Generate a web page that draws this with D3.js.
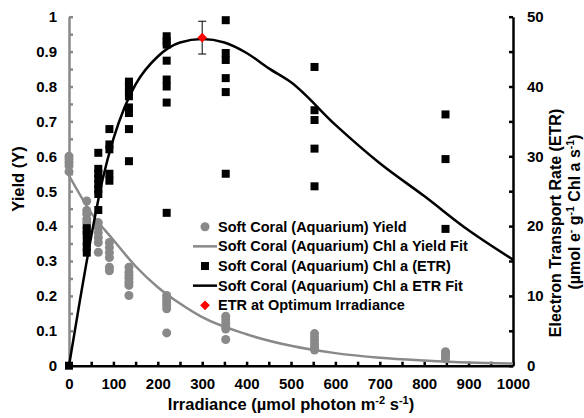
<!DOCTYPE html>
<html>
<head>
<meta charset="utf-8">
<script src="https://cdn.jsdelivr.net/npm/d3@7"></script>
<style>
  body { margin: 0; background: #fff; }
  svg { font-family: "Liberation Sans", Arial, sans-serif; font-weight: bold; }
</style>
</head>
<body>
<svg id="chart"></svg>
<script>
// irradiance levels (umol photon m-2 s-1)
var irradiance = [0, 40, 66, 91, 135, 220, 353, 553, 848];

// yield readings at each level
var yieldVals = [
  [0.600, 0.592, 0.583, 0.573, 0.556],
  [0.472, 0.445, 0.435, 0.420, 0.410, 0.395, 0.380],
  [0.410, 0.396, 0.381, 0.367, 0.353, 0.325],
  [0.353, 0.339, 0.324, 0.310, 0.282, 0.272],
  [0.282, 0.268, 0.258, 0.249, 0.239, 0.230, 0.201],
  [0.201, 0.192, 0.182, 0.173, 0.163, 0.094],
  [0.142, 0.132, 0.122, 0.112, 0.105, 0.075],
  [0.092, 0.082, 0.072, 0.062, 0.052, 0.045],
  [0.040, 0.035, 0.030, 0.025, 0.020]
];

// ETR readings at each level
var etrVals = [
  [0],
  [19.7, 18.8, 17.8, 17.0, 16.2],
  [30.5, 28.2, 27.5, 26.8, 26.0, 25.3, 24.6, 22.3],
  [33.9, 31.7, 31.0, 27.5, 26.5],
  [40.7, 40.0, 39.3, 38.6, 37.0, 36.2, 33.9, 29.3],
  [47.2, 46.5, 46.0, 43.7, 41.0, 40.0, 37.7, 21.9],
  [49.5, 44.8, 43.8, 41.2, 39.2, 27.5],
  [42.8, 36.6, 35.2, 31.1, 25.7],
  [36.0, 29.6, 19.6]
];

// fitted curves
var yieldFitX = [0, 50, 100, 150, 200, 250, 300, 400, 500, 600, 700, 800, 900, 1000];
var yieldFitY = [0.545, 0.438, 0.36, 0.285, 0.225, 0.178, 0.139, 0.09, 0.057, 0.036, 0.023, 0.015, 0.009, 0.006];
var etrFitX = [0, 25, 50, 75, 100, 125, 150, 200, 250, 300, 350, 400, 450, 500, 600, 700, 800, 900, 1000];
var etrFitY = [0, 9.5, 18.5, 26.5, 32.5, 37, 40.3, 44.3, 46.3, 46.8, 46.3, 44.8, 42.6, 40.6, 34.5, 29.0, 24.3, 19.4, 15.2];

// optimum point
var optI = 300, optEtr = 47.0, optErr = 2.35;

var legendLabels = [
  "Soft Coral (Aquarium) Yield",
  "Soft Coral (Aquarium) Chl a Yield Fit",
  "Soft Coral (Aquarium) Chl a (ETR)",
  "Soft Coral (Aquarium) Chl a ETR Fit",
  "ETR at Optimum Irradiance"
];

var grey = "#898989";
var W = 584, H = 418;
var plotL = 69, plotR = 513, plotT = 16.7, plotB = 365.7;

var svg = d3.select("#chart").attr("width", W).attr("height", H);

var x = d3.scaleLinear().domain([0, 1000]).range([plotL, plotR]);
var y = d3.scaleLinear().domain([0, 1]).range([plotB, plotT]);
var y2 = d3.scaleLinear().domain([0, 50]).range([plotB, plotT]);

// axes
var gx = svg.append("g")
  .attr("transform", `translate(0, ${plotB})`)
  .call(d3.axisBottom(x).tickValues(d3.range(0, 1001, 50)).tickSizeInner(-4).tickSizeOuter(0).tickPadding(13)
    .tickFormat((d) => d % 100 === 0 ? d : ""));

var gy = svg.append("g")
  .attr("transform", `translate(${plotL}, 0)`)
  .call(d3.axisLeft(y).tickValues(d3.range(0, 21).map((i) => i / 20)).tickSizeInner(-4).tickSizeOuter(0).tickPadding(12)
    .tickFormat((d) => Math.round(d * 20) % 2 === 0 ? (d === 0 || d === 1 ? d : d.toFixed(1)) : ""));

var gy2 = svg.append("g")
  .attr("transform", `translate(${plotR}, 0)`)
  .call(d3.axisRight(y2).tickValues(d3.range(0, 51, 5)).tickSizeInner(-4).tickSizeOuter(0).tickPadding(14)
    .tickFormat((d) => d % 10 === 0 ? d : ""));

[gx, gy, gy2].forEach(function (g) {
  g.selectAll("text").attr("font-size", 15).attr("font-weight", "bold").attr("fill", "#000")
    .attr("font-family", "Liberation Sans, Arial, sans-serif");
  g.select(".domain").attr("stroke-width", 2.5);
  g.selectAll(".tick line").attr("stroke-width", 2.5);
});
gy.select(".domain").attr("stroke", grey);
gy.selectAll(".tick line").attr("stroke", grey);

// yield points
var yieldPts = [];
irradiance.forEach(function (I, i) { yieldVals[i].forEach((v) => yieldPts.push([I, v])); });
var etrPts = [];
irradiance.forEach(function (I, i) { etrVals[i].forEach((v) => etrPts.push([I, v])); });

svg.append("g").selectAll("circle")
  .data(yieldPts).join("circle")
  .attr("cx", (d) => x(d[0])).attr("cy", (d) => y(d[1]))
  .attr("r", 4.5).attr("fill", grey);

svg.append("g").selectAll("rect")
  .data(etrPts).join("rect")
  .attr("x", (d) => x(d[0]) - 4).attr("y", (d) => y2(d[1]) - 4)
  .attr("width", 8).attr("height", 8).attr("fill", "#000");

var yieldLine = d3.line().curve(d3.curveMonotoneX).x((d) => x(d[0])).y((d) => y(d[1]));
svg.append("path")
  .attr("d", yieldLine(yieldFitX.map((v, i) => [v, yieldFitY[i]])))
  .attr("fill", "none").attr("stroke", grey).attr("stroke-width", 2.5);

var etrLine = d3.line().curve(d3.curveMonotoneX).x((d) => x(d[0])).y((d) => y2(d[1]));
svg.append("path")
  .attr("d", etrLine(etrFitX.map((v, i) => [v, etrFitY[i]])))
  .attr("fill", "none").attr("stroke", "#000").attr("stroke-width", 2.5);

// optimum with error bar
var ox = x(optI);
svg.append("line").attr("x1", ox).attr("x2", ox)
  .attr("y1", y2(optEtr + optErr)).attr("y2", y2(optEtr - optErr))
  .attr("stroke", "#000").attr("stroke-width", 1);
[optEtr + optErr, optEtr - optErr].forEach(function (v) {
  svg.append("line").attr("x1", ox - 4).attr("x2", ox + 4)
    .attr("y1", y2(v)).attr("y2", y2(v)).attr("stroke", "#000").attr("stroke-width", 1);
});
var diamond = d3.symbol().type(d3.symbolDiamond2).size(60);
svg.append("path").attr("d", diamond())
  .attr("transform", `translate(${ox}, ${y2(optEtr)})`).attr("fill", "#ff0000");

// legend
var legY = d3.scalePoint().domain(d3.range(5)).range([226.7, 305.3]);
var leg = svg.append("g");
legendLabels.forEach(function (t, i) {
  var cy = legY(i);
  if (i === 0) leg.append("circle").attr("cx", 205).attr("cy", cy).attr("r", 4.5).attr("fill", grey);
  if (i === 1 || i === 3) leg.append("line").attr("x1", 193).attr("x2", 217).attr("y1", cy).attr("y2", cy)
    .attr("stroke", i === 1 ? grey : "#000").attr("stroke-width", 2.5);
  if (i === 2) leg.append("rect").attr("x", 201).attr("y", cy - 4).attr("width", 8).attr("height", 8).attr("fill", "#000");
  if (i === 4) leg.append("path").attr("d", diamond()).attr("transform", `translate(205, ${cy})`).attr("fill", "#ff0000");
  leg.append("text").attr("x", 218).attr("y", cy + 5).attr("font-size", 14.5).text(t);
});

// axis titles
svg.append("text")
  .attr("transform", "translate(24, 179) rotate(-90)")
  .attr("text-anchor", "middle").attr("font-size", 16.5).text("Yield (Y)");

var xt = svg.append("text").attr("x", (plotL + plotR) / 2).attr("y", 410)
  .attr("text-anchor", "middle").attr("font-size", 16.5);
xt.append("tspan").text("Irradiance (µmol photon m");
xt.append("tspan").attr("baseline-shift", "super").attr("font-size", 11).text("-2");
xt.append("tspan").text(" s");
xt.append("tspan").attr("baseline-shift", "super").attr("font-size", 11).text("-1");
xt.append("tspan").text(")");

svg.append("text")
  .attr("transform", "translate(561, 223) rotate(-90)")
  .attr("text-anchor", "middle").attr("font-size", 16).text("Electron Transport Rate (ETR)");

var rt = svg.append("text")
  .attr("transform", "translate(580, 212) rotate(-90)")
  .attr("text-anchor", "middle").attr("font-size", 16);
rt.append("tspan").text("(µmol e");
rt.append("tspan").attr("baseline-shift", "super").attr("font-size", 10.5).text("-");
rt.append("tspan").text(" g");
rt.append("tspan").attr("baseline-shift", "super").attr("font-size", 10.5).text("-1");
rt.append("tspan").text(" Chl  a  s");
rt.append("tspan").attr("baseline-shift", "super").attr("font-size", 10.5).text("-1");
rt.append("tspan").text(")");
</script>
</body>
</html>
